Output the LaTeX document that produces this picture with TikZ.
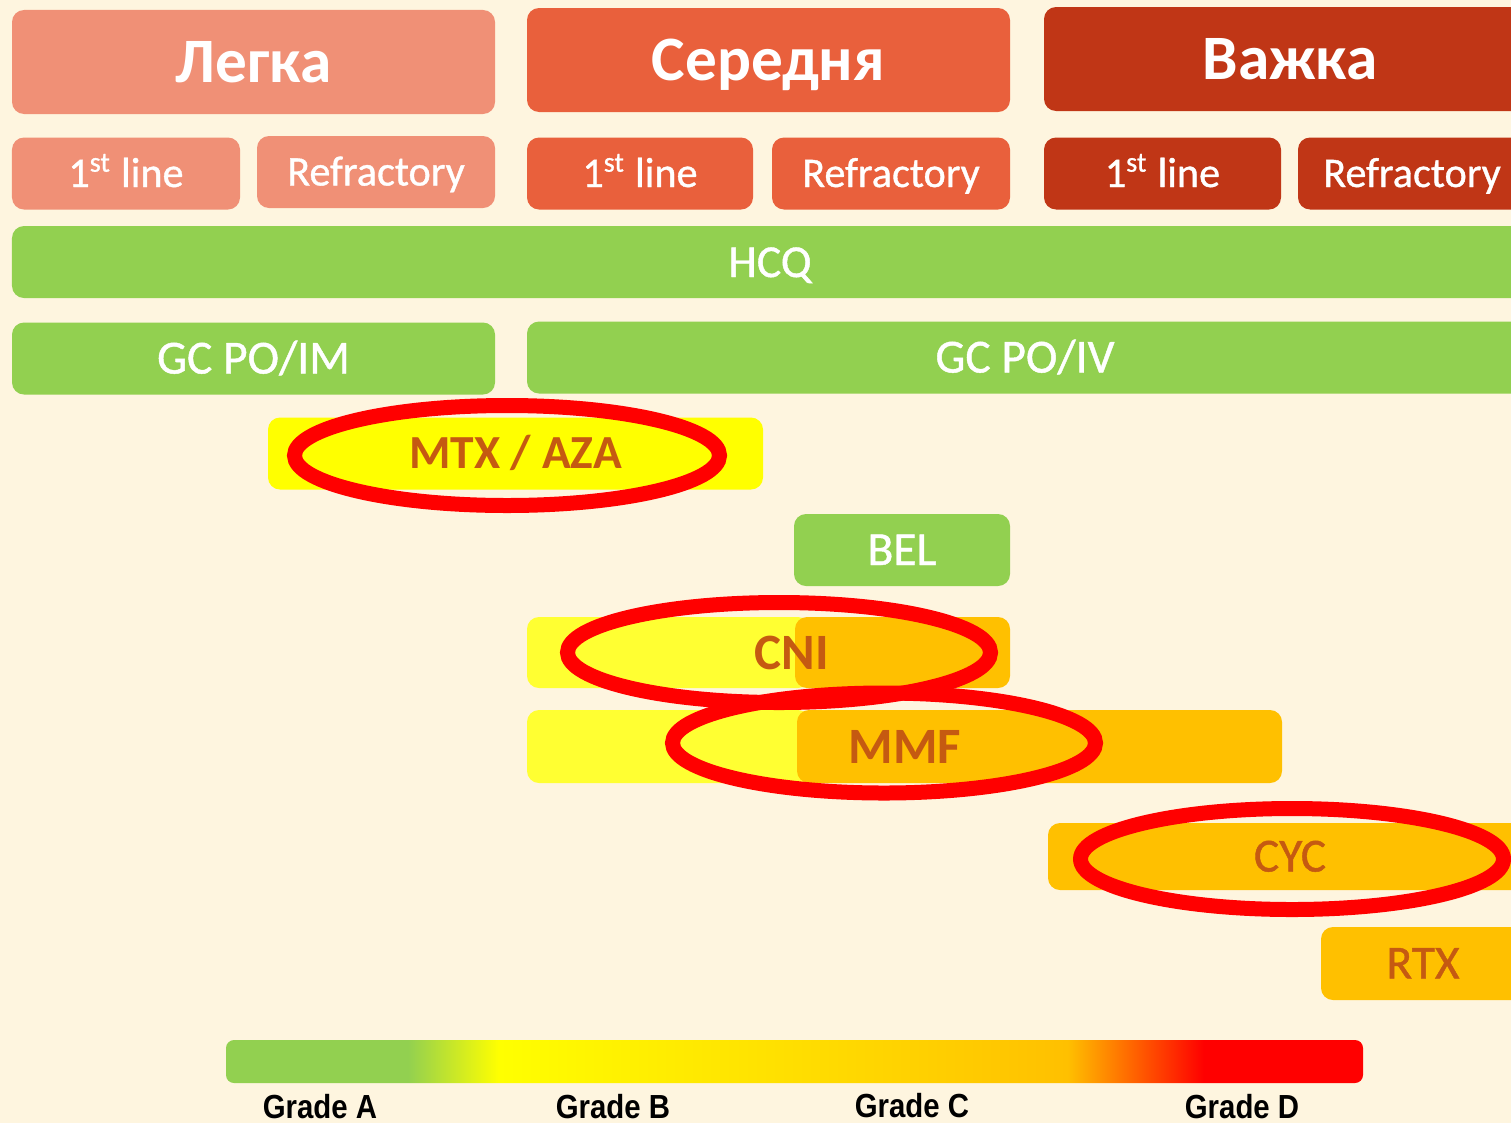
\documentclass[tikz,border=0pt]{standalone}
\usepackage{fontspec}
\setmainfont{Carlito}
\newfontfamily\semifont[FakeBold=0.9]{Carlito}
\newfontfamily\gradefont[FakeStretch=0.88]{Liberation Sans}

\definecolor{paper}{RGB}{254,245,223}
\definecolor{legka}{RGB}{240,144,118}
\definecolor{serednia}{RGB}{233,96,60}
\definecolor{vazhka}{RGB}{192,54,22}
\definecolor{gradeA}{RGB}{146,208,80}
\definecolor{gradeB}{RGB}{255,255,0}
\definecolor{gradeBl}{RGB}{255,255,50}
\definecolor{gradeC}{RGB}{255,192,0}
\definecolor{gradeD}{RGB}{255,0,0}
\definecolor{drugtext}{RGB}{197,90,17}

\pgfdeclarehorizontalshading{gradebar}{100bp}{color(0bp)=(gradeA); color(33bp)=(gradeA);
  color(37bp)=(gradeB); color(62bp)=(gradeC); color(68bp)=(gradeD); color(100bp)=(gradeD)}

\newcommand\headfont{\fontsize{18}{21}\selectfont\bfseries}
\newcommand\cellfont{\semifont\fontsize{12}{14}\selectfont}
\newcommand\drugfont{\semifont\fontsize{13.5}{16}\selectfont}

\begin{document}
\begin{tikzpicture}

	\tikzset{box/.style = {shape=rectangle,rounded corners=1.2mm,inner sep=0pt,fill=#1}}
	\tikzset{head/.style = {box=#1,text=white,minimum height=1.04cm,font=\headfont,text height=0.40cm,text depth=0pt}}
	\tikzset{cell/.style = {box=#1,text=white,minimum height=0.72cm,font=\cellfont,text height=0.27cm,text depth=0pt}}
	\tikzset{drug/.style = {box=#1,minimum height=0.72cm,font=\drugfont,text height=0.30cm,text depth=0pt}}
	\tikzset{ring/.style = {draw=gradeD,line width=1.5mm}}
	\tikzset{grade/.style = {font=\gradefont\bfseries\fontsize{9.5}{11}\selectfont}}

	\clip (0,0) rectangle (15.11,-11.23);
	\fill[paper] (0,0) rectangle (15.11,-11.23);

	% severity
	\node[head=legka,minimum width=4.83cm] (legka) at (2.535,-0.62) {Легка};
	\node[head=serednia,minimum width=4.83cm] (serednia) at (7.685,-0.60) {Середня};
	\node[head=vazhka,minimum width=4.92cm] (vazhka) at (12.90,-0.59) {Важка};

	\node[cell=legka,minimum width=2.28cm] (l1) at (1.26,-1.735) {1\textsuperscript{st} line};
	\node[cell=legka,minimum width=2.38cm] (lr) at (3.76,-1.72) {Refractory};
	\node[cell=serednia,minimum width=2.26cm] (s1) at (6.40,-1.735) {1\textsuperscript{st} line};
	\node[cell=serednia,minimum width=2.38cm] (sr) at (8.91,-1.735) {Refractory};
	\node[cell=vazhka,minimum width=2.37cm] (v1) at (11.625,-1.735) {1\textsuperscript{st} line};
	\node[cell=vazhka,minimum width=2.28cm] (vr) at (14.12,-1.735) {Refractory};

	% treatment
	\node[drug=gradeA,text=white,minimum width=15.16cm,font=\semifont\fontsize{13}{15}\selectfont] (hcq) at (7.70,-2.62) {HCQ};
	\node[drug=gradeA,text=white,minimum width=4.83cm] (gcim) at (2.535,-3.585) {GC PO/IM};
	\node[drug=gradeA,text=white,minimum width=9.96cm] (gciv) at (10.25,-3.575) {GC PO/IV};
	\node[drug=gradeB,text=drugtext,minimum width=4.95cm,font=\fontsize{13.5}{16}\selectfont\bfseries] (mtx) at (5.155,-4.535) {MTX / AZA};
	\node[drug=gradeA,text=white,minimum width=2.16cm] (bel) at (9.02,-5.50) {BEL};

	\node[drug=gradeBl,minimum width=2.83cm,minimum height=0.71cm] (cniB) at (6.685,-6.525) {};
	\node[drug=gradeC,minimum width=2.15cm,minimum height=0.71cm] (cniC) at (9.025,-6.525) {};
	\node[text=drugtext,font=\fontsize{14.5}{17}\selectfont\bfseries,text height=0.33cm,text depth=0pt] (cni) at (7.92,-6.525) {CNI};

	\node[drug=gradeBl,minimum width=2.83cm,minimum height=0.73cm] (mmfB) at (6.685,-7.465) {};
	\node[drug=gradeC,minimum width=4.85cm,minimum height=0.73cm] (mmfC) at (10.395,-7.465) {};
	\node[text=drugtext,font=\fontsize{14.5}{17}\selectfont\bfseries,text height=0.33cm,text depth=0pt] (mmf) at (9.05,-7.465) {MMF};

	\node[drug=gradeC,text=drugtext,minimum width=4.84cm,minimum height=0.67cm] (cyc) at (12.90,-8.565) {CYC};
	\node[drug=gradeC,text=drugtext,minimum width=2.04cm,minimum height=0.73cm] (rtx) at (14.23,-9.635) {RTX};

	% rings
	\draw[ring] (5.07,-4.555) ellipse [x radius=2.125,y radius=0.50];
	\draw[ring] (7.79,-6.525) ellipse [x radius=2.115,y radius=0.50];
	\draw[ring] (8.84,-7.43) ellipse [x radius=2.115,y radius=0.50];
	\draw[ring] (12.92,-8.59) ellipse [x radius=2.115,y radius=0.505];

	% scale
	\node[shape=rectangle,rounded corners=0.8mm,shading=gradebar,shade,minimum width=11.37cm,minimum height=0.43cm,inner sep=0pt] (bar) at (7.945,-10.615) {};
	\node[grade] (ga) at (3.20,-11.07) {Grade A};
	\node[grade] (gb) at (6.13,-11.07) {Grade B};
	\node[grade] (gc) at (9.12,-11.06) {Grade C};
	\node[grade] (gd) at (12.42,-11.07) {Grade D};
\end{tikzpicture}
\end{document}
